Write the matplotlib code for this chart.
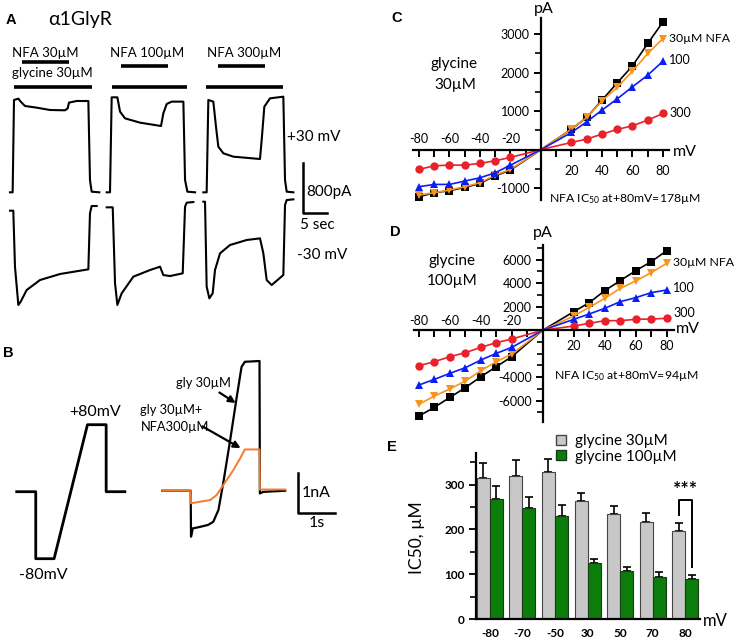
import matplotlib
matplotlib.use("Agg")
import matplotlib.pyplot as plt
from matplotlib.lines import Line2D
from matplotlib.ticker import MultipleLocator, FixedLocator

W, H = 737, 642
plt.rcParams["font.family"] = ["Lato", "DejaVu Sans"]
plt.rcParams["mathtext.fontset"] = "custom"
plt.rcParams["mathtext.rm"] = "Lato"
plt.rcParams["mathtext.default"] = "regular"

BLACK = "#000000"
ORANGE = "#F7941D"
BLUE = "#0A1EF5"
RED = "#E8212A"
GREY = "#C8C8C8"
GREEN = "#0A7D0A"
TRACE_ORANGE = "#F47A30"

# ---------------- panel A: traces (time s, current pA from baseline) ----------
a_t_p30 = [
    [0, 0.57, 0.86, 1.79, 2.29, 3.21, 5.71, 8.57, 11.79, 12.36, 12.64, 14.29, 16.79, 17.14, 17.5, 19.14],
    [0, 0.71, 1.07, 2.29, 2.86, 3.93, 7.14, 11.64, 12.14, 12.86, 13.93, 16.43, 16.79, 17.29, 18.93],
    [0, 0.71, 1.07, 2.14, 2.71, 3.21, 4.29, 6.43, 12.14, 12.5, 13.07, 14.29, 17.14, 17.5, 17.86, 19.3],
]
a_i_p30 = [
    [0, 0, 1458, 1479, 1432, 1363, 1337, 1300, 1295, 1326, 1416, 1442, 1442, 195, 10, 0],
    [0, 0, 1500, 1500, 1274, 1168, 1100, 1047, 1247, 1395, 1432, 1432, 195, 10, 0],
    [0, 0, 1458, 1432, 1037, 721, 616, 563, 526, 826, 1353, 1484, 1510, 195, 10, 0],
]
a_t_m30 = [
    [0, 0.71, 1.07, 1.79, 2.29, 3.57, 6.43, 10.71, 16.79, 17.14, 17.5, 18.57],
    [0, 1.29, 1.79, 2.29, 3.21, 5.71, 9.29, 11.43, 12.14, 13.57, 16.29, 16.79, 17.14, 18.57],
    [0, 0.36, 0.71, 1.29, 2.0, 2.5, 3.57, 5.71, 9.29, 12.14, 12.86, 13.57, 14.64, 17.14, 17.5, 17.86, 19.29],
]
a_i_m30 = [
    [0, 0, -884, -1489, -1437, -1253, -1095, -1000, -926, -42, 74, 74],
    [53, 53, -1147, -1489, -1305, -1042, -937, -884, -1016, -1032, -989, 63, 126, 137],
    [142, 142, -1200, -1384, -1305, -937, -674, -542, -463, -437, -674, -1095, -1174, -1016, 89, 168, 179],
]
a_nfa_on = [2.5, 3.0, 3.21]
a_nfa_off = [12.71, 13.07, 13.21]
a_gly_on = [0.86, 1.21, 0.5]
a_gly_off = [17.5, 17.14, 17.14]
a_nfa_labels = ["NFA 30µM", "NFA 100µM", "NFA 300µM"]

# ---------------- panel B: ramp protocol and currents ----------------
b_prot_t = [0, 0.52, 0.52, 1.02, 1.93, 2.44, 2.44, 2.95]
b_prot_mv = [0, 0, -80, -80, 80, 80, 0, 0]
b_gly_t = [0, 0.773, 0.782, 0.83, 1.03, 1.25, 1.39, 1.53, 1.66, 1.85, 2.03, 2.16, 2.25, 2.65, 2.66, 2.75, 3.35]
b_gly_na = [0, 0, -1.17, -0.96, -0.92, -0.87, -0.79, -0.49, 0.19, 1.29, 2.39, 3.15, 3.28, 3.30, -0.07, -0.03, 0]
b_nfa_t = [0, 0.773, 0.78, 1.03, 1.30, 1.48, 1.66, 1.94, 2.12, 2.25, 2.65, 2.66, 3.35]
b_nfa_na = [0, 0, -0.32, -0.28, -0.24, -0.11, 0.14, 0.53, 0.82, 1.05, 1.05, 0.03, 0.03]

# ---------------- panels C, D: I-V curves ----------------
iv_mv = [-80, -70, -60, -50, -40, -30, -20, 0, 20, 30, 40, 50, 60, 70, 80]
c_ctrl = [-1225, -1121, -1069, -983, -879, -680, -532, 0, 532, 835, 1286, 1736, 2177, 2758, 3320]
c_nfa30 = [-1182, -1121, -1052, -965, -861, -662, -515, 0, 532, 835, 1268, 1615, 2039, 2498, 2887]
c_nfa100 = [-965, -905, -905, -818, -732, -602, -403, 0, 446, 723, 1026, 1320, 1632, 1935, 2299]
c_nfa300 = [-515, -420, -403, -403, -359, -290, -203, 0, 186, 273, 403, 524, 619, 766, 939]
d_ctrl = [-7302, -6564, -5713, -4890, -3954, -3103, -2252, 0, 1577, 2343, 3364, 4216, 5064, 5830, 6766]
d_nfa30 = [-6309, -5600, -5004, -4323, -3444, -2678, -2026, 0, 1209, 1946, 2712, 3563, 4187, 4897, 5691]
d_nfa100 = [-4664, -4181, -3671, -3189, -2536, -1969, -1458, 0, 925, 1379, 1861, 2428, 2769, 3194, 3421]
d_nfa300 = [-3018, -2678, -2252, -1912, -1458, -1060, -748, 0, 357, 584, 812, 812, 925, 953, 1010]

# ---------------- panel E: IC50 ----------------
e_mv = ["-80", "-70", "-50", "30", "50", "70", "80"]
e_gly30 = [315, 320, 327, 263, 234, 217, 197]
e_gly30_sem = [33, 35, 30, 18, 18, 20, 18]
e_gly100 = [269, 248, 231, 125, 108, 95, 90]
e_gly100_sem = [28, 25, 24, 9, 9, 10, 9]

fig = plt.figure(figsize=(W / 100, H / 100), dpi=100)


def px_axes(x0, y0, x1, y1):
    return fig.add_axes([x0 / W, 1 - y1 / H, (x1 - x0) / W, (y1 - y0) / H])


def ftext(x, y, s, **kw):
    kw.setdefault("va", "center")
    fig.text(x / W, 1 - y / H, s, **kw)


def farrow(x0, y0, x1, y1):
    fig.add_artist(matplotlib.patches.FancyArrowPatch(
        (x0 / W, 1 - y0 / H), (x1 / W, 1 - y1 / H), transform=fig.transFigure,
        arrowstyle="-|>", mutation_scale=10, lw=1.6, color=BLACK))


def panel_letter(x, y, s):
    ftext(x, y, s, ha="center", fontsize=10.5, fontweight="bold",
          family=["Liberation Sans", "DejaVu Sans"])


# ======================= A =======================
A_PX_PER_S = 4.667
A_PA_PER_PX = 15.79
axA = px_axes(0, 0, 370, 330)
axA.set_xlim(0, 370 / A_PX_PER_S)
axA.set_ylim(0, 330 * A_PA_PER_PX)
axA.axis("off")
a_t0 = [2.14, 22.86, 43.57]
base_p30, base_m30 = 2174, 1884
for k in range(3):
    axA.plot([a_t0[k] + t for t in a_t_p30[k]], [base_p30 + i for i in a_i_p30[k]],
             color=BLACK, lw=1.5)
    axA.plot([a_t0[k] + t for t in a_t_m30[k]], [base_m30 + i for i in a_i_m30[k]],
             color=BLACK, lw=1.5)
    nfa_y = 4227 if k == 0 else 4173
    axA.plot([a_t0[k] + a_nfa_on[k], a_t0[k] + a_nfa_off[k]], [nfa_y, nfa_y],
             color=BLACK, lw=2.6, solid_capstyle="butt")
    axA.plot([a_t0[k] + a_gly_on[k], a_t0[k] + a_gly_off[k]], [3832, 3832],
             color=BLACK, lw=2.6, solid_capstyle="butt")
# scale bar 800 pA / 5 s
axA.plot([65, 65, 70], [1843 + 800, 1843, 1843], color=BLACK, lw=1.8)

panel_letter(11, 20, "A")
ftext(48, 19, "α1GlyR", fontsize=14)
ftext(45, 52.7, a_nfa_labels[0], ha="center", fontsize=9.5)
ftext(52.3, 73.3, "glycine 30µM", ha="center", fontsize=9.5)
ftext(146.7, 52.7, a_nfa_labels[1], ha="center", fontsize=9.5)
ftext(244, 52.7, a_nfa_labels[2], ha="center", fontsize=9.5)
ftext(287, 137, "+30 mV", fontsize=11)
ftext(297, 255, "-30 mV", fontsize=11)
ftext(306, 192, "800pA", fontsize=11)
ftext(317, 225, "5 sec", ha="center", fontsize=11)

# ======================= B =======================
B_PX_PER_S = 36.67
axBp = px_axes(0, 330, 370, 642)
axBp.set_xlim(0, 370 / B_PX_PER_S)
axBp.set_ylim(-(642 - 491.7) / 0.8375, (491.7 - 330) / 0.8375)
axBp.axis("off")
axBp.plot([0.455 + t for t in b_prot_t], b_prot_mv, color=BLACK, lw=2.0)

axBi = px_axes(0, 330, 370, 642)
axBi.set_xlim(0, 370 / B_PX_PER_S)
axBi.set_ylim(-(642 - 490.7) / 39.3, (490.7 - 330) / 39.3)
axBi.axis("off")
axBi.patch.set_alpha(0)
axBi.plot([4.427 + t for t in b_gly_t], b_gly_na, color=BLACK, lw=1.6)
axBi.plot([4.427 + t for t in b_nfa_t], b_nfa_na, color=TRACE_ORANGE, lw=1.4)
axBi.plot([8.136, 8.136, 9.136], [-0.56 + 1, -0.56, -0.56], color=BLACK, lw=1.8)

panel_letter(8, 353, "B")
ftext(95, 412, "+80mV", ha="center", fontsize=11.5)
ftext(43, 575, "-80mV", ha="center", fontsize=11.5)
ftext(176, 383, "gly 30µM", fontsize=9.3)
ftext(140, 410, "gly 30µM+", fontsize=9.3)
ftext(141, 427, "NFA300µM", fontsize=9.3)
farrow(217, 391, 238, 404.5)
farrow(200, 425, 243, 449.5)
ftext(302, 493, "1nA", fontsize=11.5)
ftext(317, 523, "1s", ha="center", fontsize=11.5)


# ======================= C, D =======================
def iv_panel(box, xlim, ylim, series, ylab_major, y_minor, neg_off, pos_off):
    ax = px_axes(*box)
    ax.set_xlim(*xlim)
    ax.set_ylim(*ylim)
    ax.patch.set_alpha(0)
    for s in ("top", "right"):
        ax.spines[s].set_visible(False)
    for s in ("left", "bottom"):
        ax.spines[s].set_position("zero")
        ax.spines[s].set_linewidth(1.6)
    ax.set_xticks(range(-80, 81, 10))
    ax.set_xticklabels([])
    ax.set_yticks(ylab_major)
    ax.set_yticklabels([str(v) for v in ylab_major], fontsize=9)
    ax.yaxis.set_minor_locator(FixedLocator(y_minor))
    ax.tick_params(axis="x", direction="out", length=5, width=1.4)
    ax.tick_params(axis="y", which="major", direction="out", length=5, width=1.4, pad=3)
    ax.tick_params(axis="y", which="minor", direction="out", length=4, width=1.2)
    for v in (-80, -60, -40, -20):
        ax.annotate(str(v), (v, 0), xytext=(0, neg_off), textcoords="offset points",
                    ha="center", va="center", fontsize=9)
    for v in (20, 40, 60, 80):
        ax.annotate(str(v), (v, 0), xytext=(0, -pos_off), textcoords="offset points",
                    ha="center", va="center", fontsize=9)
    marks = list(range(7)) + list(range(8, 15))
    for vals, col, mk in series:
        ax.plot(iv_mv, vals, color=col, lw=1.2, marker=mk, markersize=6,
                markevery=marks, markeredgewidth=0)
    return ax


iv_panel((412.9, 18, 669.1, 200), (-84, 84), (-1310, 3420),
         [(c_ctrl, BLACK, "s"), (c_nfa30, ORANGE, "v"), (c_nfa100, BLUE, "^"),
          (c_nfa300, RED, "o")],
         [-1000, 1000, 2000, 3000], range(-1000, 3500, 500), 7.7, 15.6)
panel_letter(397, 18, "C")
ftext(544, 9, "pA", ha="center", fontsize=11.5)
ftext(673, 152, "mV", fontsize=11.5)
ftext(454, 64, "glycine", ha="center", fontsize=11)
ftext(455, 85, "30µM", ha="center", fontsize=11)
ftext(669, 38, "30µM NFA", fontsize=8.8)
ftext(669, 60, "100", fontsize=9)
ftext(669, 113, "300", fontsize=9)
ftext(549, 199, "NFA IC$_{50}$ at+80mV=178µM", fontsize=8.8)

iv_panel((414.3, 245, 674.4, 421.7), (-83, 85), (-7787, 7251),
         [(d_ctrl, BLACK, "s"), (d_nfa30, ORANGE, "v"), (d_nfa100, BLUE, "^"),
          (d_nfa300, RED, "o")],
         [-6000, -4000, 2000, 4000, 6000], range(-7000, 7001, 1000), 6.5, 11.4)
panel_letter(395, 232, "D")
ftext(543, 233, "pA", ha="center", fontsize=11.5)
ftext(676, 329, "mV", fontsize=11.5)
ftext(452, 261, "glycine", ha="center", fontsize=11)
ftext(452, 281, "100µM", ha="center", fontsize=11)
ftext(673, 263, "30µM NFA", fontsize=8.8)
ftext(673, 288, "100", fontsize=9)
ftext(673, 313, "300", fontsize=9)
ftext(554, 376, "NFA IC$_{50}$ at+80mV=94µM", fontsize=8.8)

# ======================= E =======================
axE = px_axes(476, 452.7, 700, 619.3)
axE.set_xlim(-0.43, 6.46)
axE.set_ylim(0, 371)
pos = list(range(len(e_mv)))
axE.bar([p - 0.2 for p in pos], e_gly30, width=0.4, color=GREY, edgecolor="#444444",
        lw=0.8, label="glycine 30µM", zorder=2)
axE.bar([p + 0.2 for p in pos], e_gly100, width=0.4, color=GREEN, edgecolor="#1A3A1A",
        lw=0.8, label="glycine 100µM", zorder=2)
axE.errorbar([p - 0.2 for p in pos], e_gly30, yerr=[[0] * 7, e_gly30_sem], fmt="none",
             ecolor=BLACK, elinewidth=1.2, capsize=3, capthick=1.2, zorder=1)
axE.errorbar([p + 0.2 for p in pos], e_gly100, yerr=[[0] * 7, e_gly100_sem], fmt="none",
             ecolor=BLACK, elinewidth=1.2, capsize=3, capthick=1.2, zorder=1)
for s in ("top", "right"):
    axE.spines[s].set_visible(False)
for s in ("left", "bottom"):
    axE.spines[s].set_linewidth(1.6)
axE.set_xticks(pos)
axE.set_xticklabels(e_mv, fontsize=8.5, fontweight="bold")
axE.tick_params(axis="x", length=0, pad=6)
axE.set_yticks([0, 100, 200, 300])
axE.set_yticklabels(["0", "100", "200", "300"], fontsize=8.5, fontweight="bold")
axE.yaxis.set_minor_locator(MultipleLocator(50))
axE.tick_params(axis="y", which="major", length=5, width=1.3, pad=3)
axE.tick_params(axis="y", which="minor", length=4, width=1.2)
# significance bracket at +80 mV
axE.plot([5.8, 5.8, 6.2, 6.2], [232, 266, 266, 117], color=BLACK, lw=1.4)
axE.text(6.0, 288, "***", ha="center", va="center", fontsize=14, fontweight="bold")
axE.legend(handles=[
    Line2D([], [], ls="", marker="s", markersize=7, markerfacecolor=GREY,
           markeredgecolor="#444444", label="glycine 30µM"),
    Line2D([], [], ls="", marker="s", markersize=7, markerfacecolor=GREEN,
           markeredgecolor="#1A3A1A", label="glycine 100µM")],
    loc="upper left", bbox_to_anchor=(555 / W, 1 - 434 / H),
    bbox_transform=fig.transFigure, frameon=False, fontsize=11,
    handlelength=0.8, handletextpad=0.5, labelspacing=0.1, borderpad=0,
    borderaxespad=0)
panel_letter(392, 447, "E")
ftext(417, 538, "IC50, µM", ha="center", rotation=90, fontsize=12.5)
ftext(703, 621, "mV", fontsize=12)

fig.savefig("out.png", dpi=100)
